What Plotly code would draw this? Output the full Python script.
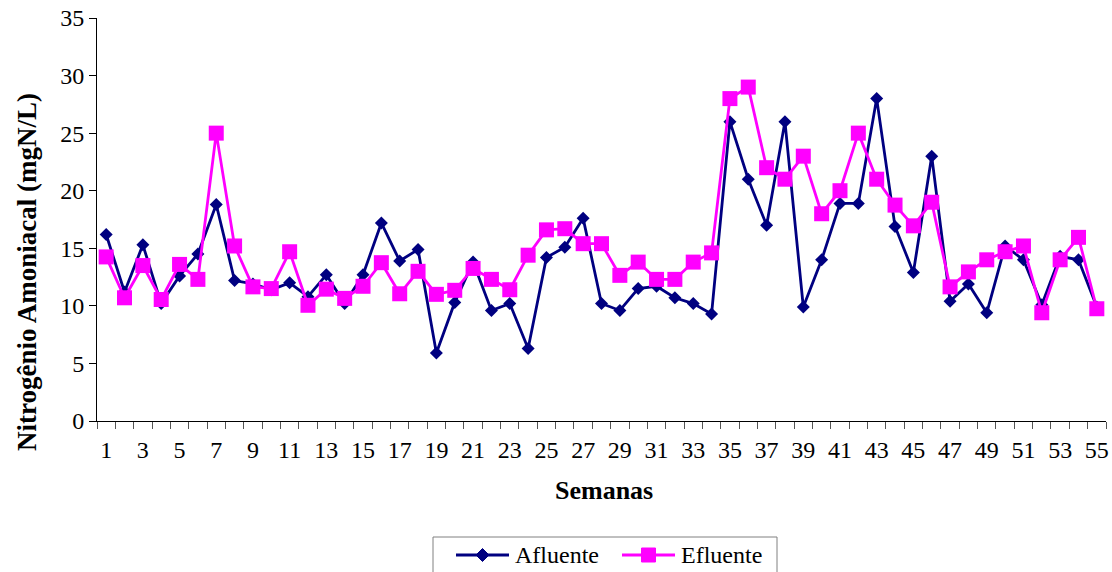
import plotly.graph_objects as go

# Weekly ammoniacal nitrogen (mgN/L)
semanas = list(range(1, 56))
afluente = [16.2, 11.2, 15.3, 10.2, 12.6, 14.5, 18.8, 12.2, 11.9, 11.4,
            12.0, 10.8, 12.7, 10.2, 12.7, 17.2, 13.9, 14.9, 5.9, 10.3,
            13.8, 9.6, 10.2, 6.3, 14.2, 15.1, 17.6, 10.2, 9.6, 11.5,
            11.7, 10.7, 10.2, 9.3, 26.0, 21.0, 17.0, 26.0, 9.9, 14.0,
            18.9, 18.9, 28.0, 16.9, 12.9, 23.0, 10.4, 11.9, 9.4, 15.2,
            14.0, 10.1, 14.3, 14.0, 9.9]
efluente = [14.25, 10.7, 13.5, 10.55, 13.6, 12.3, 25.0, 15.2, 11.65, 11.5,
            14.7, 10.05, 11.45, 10.65, 11.7, 13.75, 11.05, 13.0, 11.0, 11.35,
            13.25, 12.3, 11.4, 14.4, 16.6, 16.7, 15.4, 15.4, 12.65, 13.8,
            12.3, 12.3, 13.8, 14.6, 28.0, 29.0, 22.0, 21.0, 23.0, 18.0,
            20.0, 25.0, 21.0, 18.75, 16.95, 19.0, 11.65, 12.95, 14.0, 14.7,
            15.2, 9.4, 14.0, 15.95, 9.75]
x_labels = list(range(1, 56, 2))
y_ticks = list(range(0, 36, 5))

FONT = "Liberation Serif, Times New Roman, serif"
NAVY = "#000080"
MAGENTA = "#FF00FF"

W, H = 1112, 572
L, R, T, B = 97, 6, 18, 151
PW, PH = W - L - R, H - T - B


def px(x):
    """Pixel x -> paper coordinate."""
    return (x - L) / PW


def py(y):
    """Pixel y (from top) -> paper coordinate."""
    return (H - B - y) / PH


fig = go.Figure()
fig.add_trace(go.Scatter(
    x=semanas, y=afluente, name="Afluente", mode="lines+markers",
    line=dict(color=NAVY, width=2.8),
    marker=dict(symbol="diamond", size=10, color=NAVY),
))
fig.add_trace(go.Scatter(
    x=semanas, y=efluente, name="Efluente", mode="lines+markers",
    line=dict(color=MAGENTA, width=2.8),
    marker=dict(symbol="square", size=15, color=MAGENTA),
))

# Legend box below the chart (drawn by hand so it can run off the bottom edge)
ly = 555
shapes = [
    dict(type="rect", xref="paper", yref="paper",
         x0=px(433), x1=px(777), y0=py(537), y1=py(600),
         line=dict(color="#808080", width=1), fillcolor="white", layer="above"),
    dict(type="line", xref="paper", yref="paper",
         x0=px(456), x1=px(509), y0=py(ly), y1=py(ly),
         line=dict(color=NAVY, width=2.8)),
    dict(type="path", xref="paper", yref="paper",
         path=(f"M {px(482.5 - 6.5)},{py(ly)} L {px(482.5)},{py(ly - 6.5)} "
               f"L {px(482.5 + 6.5)},{py(ly)} L {px(482.5)},{py(ly + 6.5)} Z"),
         fillcolor=NAVY, line=dict(color=NAVY, width=1)),
    dict(type="line", xref="paper", yref="paper",
         x0=px(622), x1=px(675), y0=py(ly), y1=py(ly),
         line=dict(color=MAGENTA, width=2.8)),
    dict(type="rect", xref="paper", yref="paper",
         x0=px(648.5 - 7), x1=px(648.5 + 7), y0=py(ly - 7), y1=py(ly + 7),
         fillcolor=MAGENTA, line=dict(color=MAGENTA, width=1)),
]

annotations = [
    dict(text="<b>Semanas</b>", xref="paper", yref="paper",
         x=px(604), y=py(490), xanchor="center", yanchor="middle",
         showarrow=False, font=dict(family=FONT, size=26)),
    dict(text="<b>Nitrogênio Amoniacal (mgN/L)</b>", xref="paper", yref="paper",
         x=px(27), y=py(272), xanchor="center", yanchor="middle",
         textangle=-90, showarrow=False, font=dict(family=FONT, size=27)),
    dict(text="Afluente", xref="paper", yref="paper",
         x=px(513), y=py(ly), xanchor="left", yanchor="middle",
         showarrow=False, font=dict(family=FONT, size=24)),
    dict(text="Efluente", xref="paper", yref="paper",
         x=px(679), y=py(ly), xanchor="left", yanchor="middle",
         showarrow=False, font=dict(family=FONT, size=24)),
]

fig.update_layout(
    width=W, height=H,
    margin=dict(l=L, r=R, t=T, b=B, autoexpand=False),
    paper_bgcolor="white", plot_bgcolor="white",
    font=dict(family=FONT, size=24, color="black"),
    showlegend=False,
    xaxis=dict(
        range=[0.5, 55.5], tickmode="array", tickvals=x_labels,
        ticktext=[str(v) for v in x_labels],
        ticks="outside", ticklen=7, tickcolor="rgba(0,0,0,0)",
        showline=True, linecolor="black", linewidth=1,
        showgrid=False, zeroline=False,
        tickfont=dict(family=FONT, size=24),
        minor=dict(tickmode="array", tickvals=[i + 0.5 for i in range(0, 56)],
                   ticks="outside", ticklen=7, tickcolor="#555555",
                   tickwidth=1, showgrid=False),
    ),
    yaxis=dict(
        range=[0, 35], tickmode="array", tickvals=y_ticks,
        ticks="outside", ticklen=7, tickcolor="black", tickwidth=1,
        showline=True, linecolor="black", linewidth=1,
        showgrid=False, zeroline=False,
        tickfont=dict(family=FONT, size=24),
    ),
    shapes=shapes,
    annotations=annotations,
)

fig.write_html("out.html")
